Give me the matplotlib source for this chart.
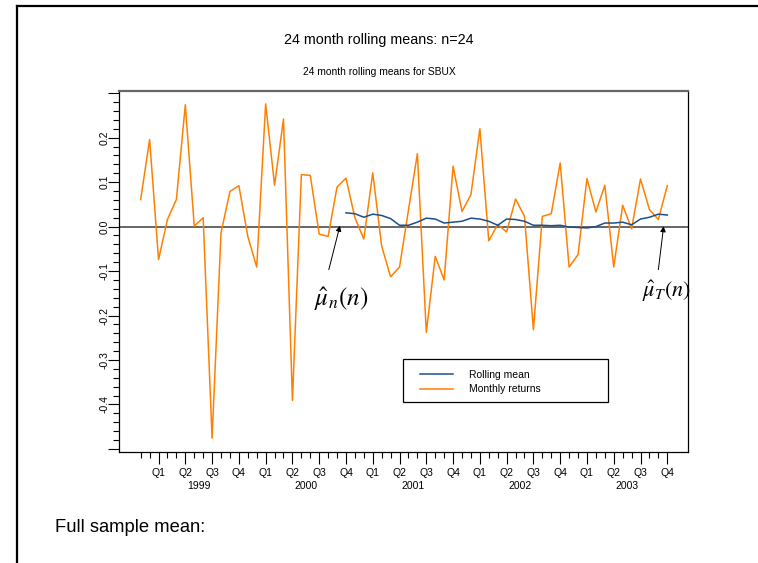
import numpy as np
import matplotlib
matplotlib.use('Agg')
import matplotlib.pyplot as plt
from matplotlib.ticker import MultipleLocator, FixedLocator, FuncFormatter
from matplotlib.lines import Line2D
from matplotlib.patches import Rectangle
import matplotlib.transforms as mtransforms

plt.rcParams['font.family'] = ['Liberation Sans', 'DejaVu Sans']
plt.rcParams['axes.unicode_minus'] = False

# monthly returns, Jan 1999 .. Dec 2003 (index 0..59)
months = np.arange(60)
returns = [0.061, 0.196, -0.074, 0.016, 0.061, 0.274, 0.001, 0.020, -0.476, -0.014,
           0.079, 0.092, -0.022, -0.091, 0.276, 0.093, 0.242, -0.391, 0.117, 0.115,
           -0.017, -0.022, 0.089, 0.109, 0.020, -0.028, 0.121, -0.044, -0.113, -0.091,
           0.037, 0.164, -0.238, -0.067, -0.120, 0.136, 0.034, 0.072, 0.220, -0.032,
           0.005, -0.012, 0.062, 0.023, -0.232, 0.023, 0.029, 0.143, -0.091, -0.063,
           0.108, 0.033, 0.093, -0.091, 0.048, -0.005, 0.107, 0.038, 0.016, 0.092]

# 24 month rolling mean, defined from month 23 on
roll_months = months[23:]
rolling_mean = [0.031, 0.029, 0.021, 0.028, 0.025, 0.018, 0.003, 0.003, 0.010, 0.019,
                0.017, 0.008, 0.010, 0.012, 0.019, 0.017, 0.012, 0.003, 0.017, 0.016,
                0.012, 0.003, 0.003, 0.002, 0.003, -0.001, -0.002, -0.003, 0.000, 0.008,
                0.008, 0.010, 0.004, 0.017, 0.021, 0.028, 0.026]

y_major = [-0.5, -0.4, -0.3, -0.2, -0.1, 0.0, 0.1, 0.2, 0.3]
y_labelled = [-0.4, -0.3, -0.2, -0.1, 0.0, 0.1, 0.2]

quarter_ticks = months[2::3]
quarter_labels = ['Q1', 'Q2', 'Q3', 'Q4'] * 5
years = ['1999', '2000', '2001', '2002', '2003']
year_centers = [6.5 + 12 * k for k in range(5)]

W, H = 758, 563
fig = plt.figure(figsize=(W / 100, H / 100), dpi=100)
ax = fig.add_axes([119 / W, 1 - 452 / H, (688 - 119) / W, (452 - 91) / H])

ax.axhline(0, color='#5a5a5a', lw=1.3, zorder=1)
ax.plot(months, returns, color='#ff8000', lw=1.1, label='Monthly returns', zorder=2)
ax.plot(roll_months, rolling_mean, color='#1c4f8c', lw=1.1, label='Rolling mean', zorder=3)

ax.set_xlim(-2.43, 61.32)
ax.set_ylim(-0.507, 0.305)

# y axis
def ylab(v, pos):
    if any(abs(v - t) < 1e-9 for t in y_labelled):
        return '%.1f' % v
    return ''

ax.yaxis.set_major_locator(FixedLocator(y_major))
ax.yaxis.set_minor_locator(MultipleLocator(0.02))
ax.yaxis.set_major_formatter(FuncFormatter(ylab))
ax.tick_params(axis='y', which='major', direction='out', length=8, width=0.8,
               labelsize=7.5, labelrotation=90, pad=-1)
ax.tick_params(axis='y', which='minor', direction='out', length=4.5, width=0.8)
for lab in ax.get_yticklabels():
    lab.set_va('center')

# x axis: month minor ticks, quarter labels
ax.xaxis.set_major_locator(FixedLocator(quarter_ticks))
ax.xaxis.set_minor_locator(FixedLocator(months))
ax.set_xticklabels(quarter_labels)
ax.tick_params(axis='x', which='major', direction='out', length=8.5, width=0.8,
               labelsize=7.5, pad=3)
ax.tick_params(axis='x', which='minor', direction='out', length=4, width=0.8)

trans = mtransforms.blended_transform_factory(ax.transData, ax.transAxes)
for xc, yr in zip(year_centers, years):
    ax.text(xc, -0.094, yr, transform=trans, ha='center', va='center', fontsize=7.5)

for side in ['left', 'bottom', 'right']:
    ax.spines[side].set_linewidth(0.9)
    ax.spines[side].set_color('black')
ax.spines['top'].set_color('#666666')
ax.spines['top'].set_linewidth(1.6)

# annotations
ax.annotate('', xy=(22.4, 0.008), xytext=(21.0, -0.103),
            arrowprops=dict(arrowstyle='-|>', color='black', lw=0.7, mutation_scale=8))
ax.text(22.5, -0.164, r'$\hat{\mu}_n(n)$', ha='center', va='center', fontsize=18,
        math_fontfamily='stix')
ax.annotate('', xy=(58.63, 0.007), xytext=(57.96, -0.103),
            arrowprops=dict(arrowstyle='-|>', color='black', lw=0.7, mutation_scale=8))
ax.text(58.96, -0.146, r'$\hat{\mu}_T(n)$', ha='center', va='center', fontsize=16,
        math_fontfamily='stix')

# legend: frame drawn separately, entries placed inside it
ax.add_patch(Rectangle((0.4997, 0.1377), 0.3593, 0.1191, transform=ax.transAxes,
                       fill=False, edgecolor='black', lw=0.9, zorder=5))
handles, labels = ax.get_legend_handles_labels()
leg = ax.legend(handles[::-1], labels[::-1], loc='upper left',
                bbox_to_anchor=((420 - 119) / 569, (452 - 370) / 361),
                borderaxespad=0, borderpad=0, fontsize=7.5, handlelength=3.17,
                handletextpad=1.54, labelspacing=0.4, frameon=False)

# titles and slide text
fig.text(0.5, 1 - 40 / H, '24 month rolling means: n=24', ha='center', va='center', fontsize=10.3)
fig.text(0.5, 1 - 72 / H, '24 month rolling means for SBUX', ha='center', va='center', fontsize=7.4)
fig.text(55 / W, 1 - 527 / H, 'Full sample mean:', ha='left', va='center', fontsize=13.2)

# slide border
fig.add_artist(Line2D([17 / W, 17 / W], [0, 1 - 6 / H], transform=fig.transFigure,
                      color='black', lw=1.6))
fig.add_artist(Line2D([17 / W, 1], [1 - 6 / H, 1 - 6 / H], transform=fig.transFigure,
                      color='black', lw=1.6))

fig.savefig('out.png', dpi=100)
